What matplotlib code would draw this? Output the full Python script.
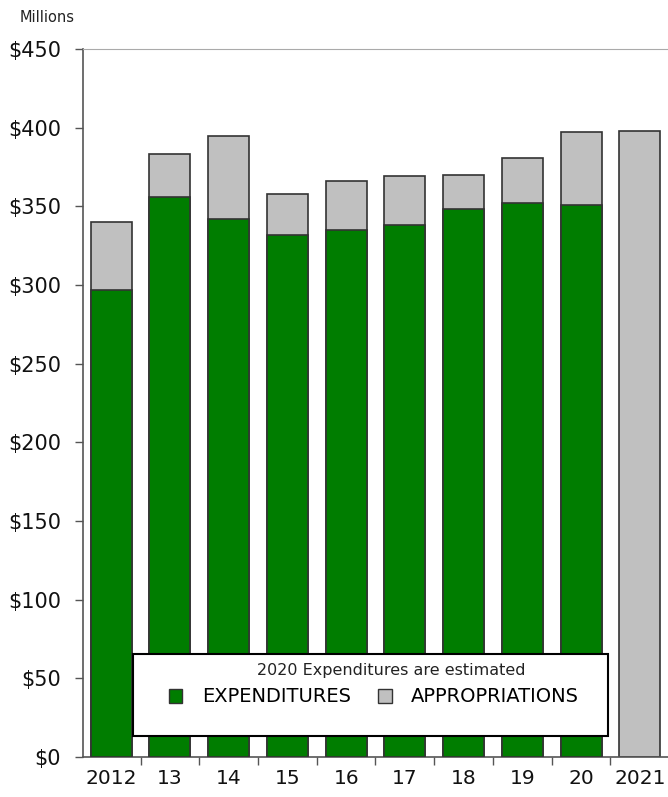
import numpy as np
import matplotlib.pyplot as plt
import matplotlib
from matplotlib.patches import Rectangle, Patch

matplotlib.rc('font', family='DejaVu Sans')

years = ['2012', '13', '14', '15', '16', '17', '18', '19', '20', '2021']
expenditures = [297, 356, 342, 332, 335, 338, 348, 352, 351, np.nan]
appropriations = [340, 383, 395, 358, 366, 369, 370, 381, 397, 398]
yticks = [0, 50, 100, 150, 200, 250, 300, 350, 400, 450]

green = '#007d00'
grey = '#c0c0c0'
edge = '#333333'

fig = plt.figure(figsize=(6.68, 7.97), dpi=100)
ax = fig.add_axes([83/668, 1-757/797, 1-83/668, (757-49)/797])

x = np.arange(len(years))
w = 0.7
ax.bar(x, appropriations, w, color=grey, edgecolor=edge, linewidth=1.2, zorder=2)
ax.bar(x, expenditures, w, color=green, edgecolor=edge, linewidth=1.2, zorder=3)

ax.set_xlim(-0.48, len(years) - 0.52)
ax.set_ylim(0, 450)
ax.set_yticks(yticks)
ax.set_yticklabels(['$%d' % v for v in yticks], fontsize=15, color='#111111')
ax.set_xticks(x)
ax.set_xticklabels(years, fontsize=14.5, color='#111111')
ax.tick_params(axis='x', which='major', length=0, pad=9)
ax.set_xticks(x[:-1] + 0.5, minor=True)
ax.tick_params(axis='x', which='minor', length=6, color='#555555', width=1)
ax.tick_params(axis='y', length=6, color='#555555', width=1, pad=10)

for s in ['left', 'bottom']:
    ax.spines[s].set_color('#555555')
    ax.spines[s].set_linewidth(1.2)
ax.spines['top'].set_color('#aaaaaa')
ax.spines['right'].set_visible(False)

fig.text(20/668, 1-17/797, 'Millions', fontsize=10.5, va='center', ha='left',
         color='#222222')

# legend box
box = Rectangle((133/668, 1-736/797), (608-133)/668, (736-654)/797,
                transform=fig.transFigure, facecolor='white', edgecolor='black',
                linewidth=1.5, zorder=4)
fig.patches.append(box)
fig.text(391/668, 1-671/797, '2020 Expenditures are estimated', fontsize=11.5,
         ha='center', va='center', zorder=6, color='#222222')
handles = [Patch(facecolor=green, edgecolor=edge, label='EXPENDITURES'),
           Patch(facecolor=grey, edgecolor=edge, label='APPROPRIATIONS')]
leg = fig.legend(handles=handles, ncol=2, loc='center', frameon=False,
                 bbox_to_anchor=(374/668, 1-697/797), fontsize=14,
                 handlelength=0.7, handleheight=0.7, handletextpad=1.0,
                 columnspacing=1.4)
leg.set_zorder(6)

plt.savefig('out.png', dpi=100)
